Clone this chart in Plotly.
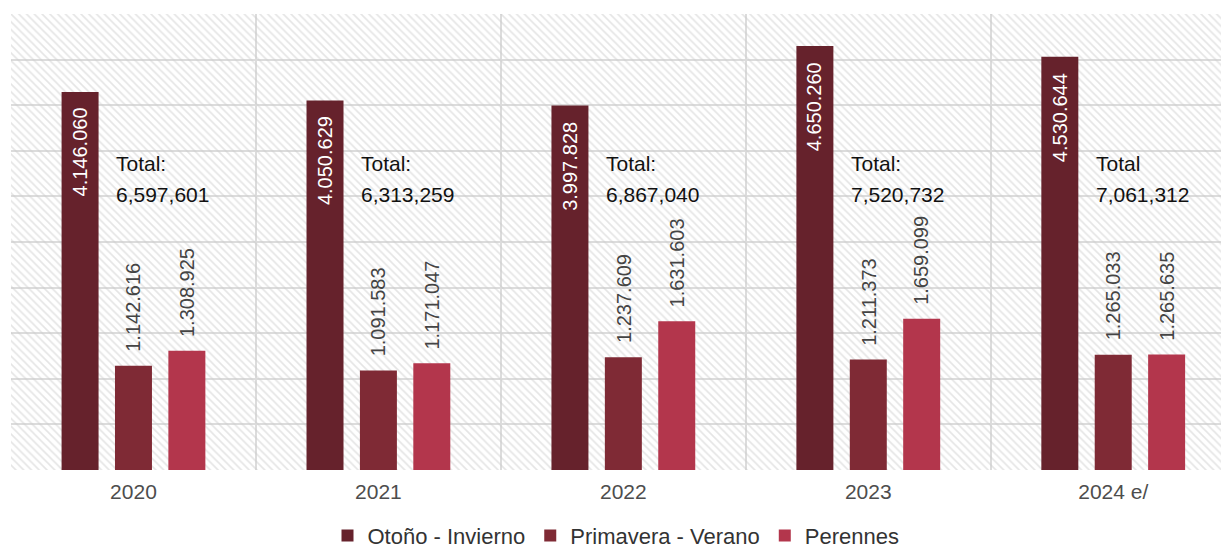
import plotly.graph_objects as go

years = ["2020", "2021", "2022", "2023", "2024 e/"]
otono = [4146060, 4050629, 3997828, 4650260, 4530644]
primavera = [1142616, 1091583, 1237609, 1211373, 1265033]
perennes = [1308925, 1171047, 1631603, 1659099, 1265635]
totals = ["6,597,601", "6,313,259", "6,867,040", "7,520,732", "7,061,312"]
total_heads = ["Total:", "Total:", "Total:", "Total:", "Total"]

series = [
    ("Otoño - Invierno", otono, "#66222C", -0.218),
    ("Primavera - Verano", primavera, "#7F2A35", 0.0),
    ("Perennes", perennes, "#B3364C", 0.218),
]
bar_w = 0.151
y_max = 5000000
x_lo, x_hi = -0.5, 4.44
FONT = "Liberation Sans, Arial, sans-serif"

def fmt(v):
    return f"{v:,}".replace(",", ".")

fig = go.Figure()

# hatched background on the base subplot
fig.add_trace(go.Scatter(
    x=[x_lo, x_hi, x_hi, x_lo, x_lo], y=[0, 0, y_max, y_max, 0],
    mode="none", fill="toself", fillcolor="rgba(0,0,0,0)",
    fillpattern=dict(shape="\\", fgcolor="#cccccc", bgcolor="rgba(0,0,0,0)",
                     size=5.5, solidity=0.3, fillmode="overlay"),
    showlegend=False, hoverinfo="skip", xaxis="x", yaxis="y"))

xs = list(range(len(years)))
annotations = []
for name, vals, color, c in series:
    fig.add_trace(go.Bar(
        name=name, x=xs, y=vals, width=bar_w, offset=c - bar_w / 2,
        marker=dict(color=color, line=dict(width=0)),
        hoverinfo="skip", xaxis="x2", yaxis="y"))
    for i, v in enumerate(vals):
        if name == "Otoño - Invierno":
            annotations.append(dict(
                x=i + c, y=v, xref="x2", yref="y", text=fmt(v), showarrow=False,
                textangle=-90, yanchor="top", xanchor="center", yshift=-14,
                font=dict(family=FONT, size=20, color="white")))
        else:
            annotations.append(dict(
                x=i + c, y=v, xref="x2", yref="y", text=fmt(v), showarrow=False,
                textangle=-90, yanchor="bottom", xanchor="center", yshift=12,
                font=dict(family=FONT, size=20, color="#444444")))

for i in xs:
    annotations.append(dict(
        x=i - 0.078, y=3360000, xref="x2", yref="y", text=total_heads[i], showarrow=False,
        xanchor="left", yanchor="middle",
        font=dict(family=FONT, size=21, color="#111111")))
    annotations.append(dict(
        x=i - 0.078, y=3020000, xref="x2", yref="y", text=totals[i], showarrow=False,
        xanchor="left", yanchor="middle",
        font=dict(family=FONT, size=21, color="#111111")))

fig.update_layout(
    width=1221, height=550,
    margin=dict(l=11, r=0, t=14, b=80, autoexpand=False),
    paper_bgcolor="white", plot_bgcolor="white",
    barmode="overlay",
    showlegend=True,
    legend=dict(orientation="h", x=0.5, xanchor="center",
                yref="container", y=0.026, yanchor="middle",
                font=dict(family=FONT, size=22, color="#333333"),
                itemwidth=30, tracegroupgap=0),
    xaxis=dict(range=[x_lo, x_hi], tick0=-0.5, dtick=1, showticklabels=False,
               showgrid=True, gridcolor="#dcdcdc", gridwidth=1.5, zeroline=False,
               ticks="", fixedrange=True),
    xaxis2=dict(overlaying="x", range=[x_lo, x_hi], tickvals=xs, ticktext=years,
                showgrid=False, zeroline=False, ticks="", side="bottom",
                ticklabelstandoff=7,
                tickfont=dict(family=FONT, size=21, color="#4d4d4d")),
    yaxis=dict(range=[0, y_max], dtick=500000, showticklabels=False, showgrid=True,
               gridcolor="#dcdcdc", gridwidth=1.5, zeroline=False, ticks="",
               showline=False),
    annotations=annotations,
)

fig.write_html("out.html", config={"displayModeBar": False},
               post_script="document.body.style.margin='0';document.body.style.overflow='hidden';")
